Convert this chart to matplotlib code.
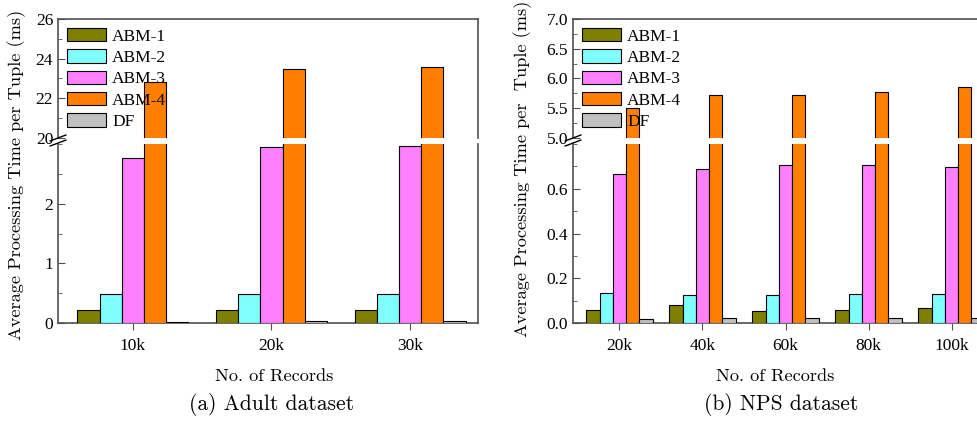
import numpy as np
import matplotlib
matplotlib.use("Agg")
import matplotlib.pyplot as plt
from matplotlib.ticker import MultipleLocator, FormatStrFormatter

# 数据
series = ["ABM-1", "ABM-2", "ABM-3", "ABM-4", "DF"]
colors = ["#808000", "#80FFFF", "#FF80FF", "#FF8000", "#C0C0C0"]

adult_cats = ["10k", "20k", "30k"]
adult_abm1 = [0.22, 0.21, 0.21]
adult_abm2 = [0.49, 0.49, 0.49]
adult_abm3 = [2.77, 2.95, 2.97]
adult_abm4 = [22.82, 23.50, 23.57]
adult_df = [0.02, 0.03, 0.035]

nps_cats = ["20k", "40k", "60k", "80k", "100k"]
nps_abm1 = [0.058, 0.080, 0.053, 0.056, 0.065]
nps_abm2 = [0.134, 0.125, 0.125, 0.129, 0.131]
nps_abm3 = [0.667, 0.687, 0.707, 0.705, 0.696]
nps_abm4 = [5.51, 5.72, 5.715, 5.77, 5.85]
nps_df = [0.018, 0.022, 0.022, 0.022, 0.022]

tick_font = "Liberation Serif"
label_font = "cmr10"
spine_col = "#505050"

fig = plt.figure(figsize=(9.77, 4.22), dpi=100)


def draw_bars(ax, data):
    x = np.arange(len(data[0]))
    w = 0.16
    for i, vals in enumerate(data):
        ax.bar(x + (i - 2) * w, vals, w, color=colors[i], edgecolor="black",
               linewidth=0.8, label=series[i], zorder=3)
    return x


def style_axes(ax):
    for s in ax.spines.values():
        s.set_color(spine_col)
        s.set_linewidth(1.2)
    ax.tick_params(axis="y", which="both", direction="in", colors=spine_col,
                   labelcolor="black", labelsize=12.5)
    ax.tick_params(axis="y", which="major", length=5)
    ax.tick_params(axis="y", which="minor", length=3)
    ax.tick_params(axis="x", direction="out", length=5, colors=spine_col,
                   labelcolor="black", labelsize=12.5, pad=6)
    for lab in ax.get_xticklabels() + ax.get_yticklabels():
        lab.set_fontfamily(tick_font)


def make_panel(left, width, xlim, cats, data, up_lim, up_major, up_minor,
               lo_lim, lo_ticks, lo_minor, fmt, show_right):
    ax_up = fig.add_axes([left, 0.673, width, 0.282])
    ax_lo = fig.add_axes([left, 0.2346, width, 0.424])
    for ax in (ax_up, ax_lo):
        x = draw_bars(ax, data)
        ax.set_xlim(*xlim)
    ax_up.set_ylim(*up_lim)
    ax_up.yaxis.set_major_locator(MultipleLocator(up_major))
    ax_up.yaxis.set_minor_locator(MultipleLocator(up_minor))
    ax_up.yaxis.set_major_formatter(FormatStrFormatter(fmt))
    ax_up.set_xticks([])
    ax_up.spines["bottom"].set_visible(False)
    ax_lo.set_ylim(*lo_lim)
    ax_lo.set_yticks(lo_ticks)
    ax_lo.yaxis.set_minor_locator(MultipleLocator(lo_minor))
    ax_lo.yaxis.set_major_formatter(FormatStrFormatter(fmt))
    ax_lo.set_xticks(x)
    ax_lo.set_xticklabels(cats)
    ax_lo.spines["top"].set_visible(False)
    if not show_right:
        ax_up.spines["right"].set_visible(False)
        ax_lo.spines["right"].set_visible(False)
    style_axes(ax_up)
    style_axes(ax_lo)
    # 断轴符号
    kw = dict(transform=fig.transFigure, color="black", lw=1.0, clip_on=False)
    for dy in (0.0, 0.012):
        fig.add_artist(plt.Line2D([left - 0.008, left + 0.008],
                                  [0.654 + dy, 0.668 + dy], **kw))
    leg = ax_up.legend(loc="upper left", frameon=False, handlelength=2.25,
                       handleheight=0.8, labelspacing=0.27, borderaxespad=0.12,
                       handletextpad=0.35, prop={"family": tick_font, "size": 12.5})
    leg.set_zorder(5)
    return ax_up, ax_lo


make_panel(58 / 977, 420 / 977, (-0.54, 2.49), adult_cats,
           [adult_abm1, adult_abm2, adult_abm3, adult_abm4, adult_df],
           (20, 26), 2, 1, (0, 3), [0, 1, 2], 0.5, "%d", True)

make_panel(573 / 977, 425 / 977, (-0.56, 4.56), nps_cats,
           [nps_abm1, nps_abm2, nps_abm3, nps_abm4, nps_df],
           (5.0, 7.0), 0.5, 0.25, (0, 0.8), [0, 0.2, 0.4, 0.6], 0.1, "%.1f", False)

# 坐标轴标题和子图标题
fig.text(0.0174, 0.585, "Average Processing Time per Tuple (ms)", rotation=90,
         ha="center", va="center", family=label_font, fontsize=13.2)
fig.text(0.535, 0.60, "Average Processing Time per  Tuple (ms)", rotation=90,
         ha="center", va="center", family=label_font, fontsize=13.2)
fig.text(274 / 977, 1 - 376 / 422, "No. of Records", ha="center", va="center",
         family=label_font, fontsize=13.2)
fig.text(775 / 977, 1 - 376 / 422, "No. of Records", ha="center", va="center",
         family=label_font, fontsize=13.2)
fig.text(272 / 977, 1 - 405 / 422, "(a) Adult dataset", ha="center", va="center",
         family=label_font, fontsize=15.5)
fig.text(781 / 977, 1 - 405 / 422, "(b) NPS dataset", ha="center", va="center",
         family=label_font, fontsize=15.5)

fig.savefig("out.png", dpi=100)
